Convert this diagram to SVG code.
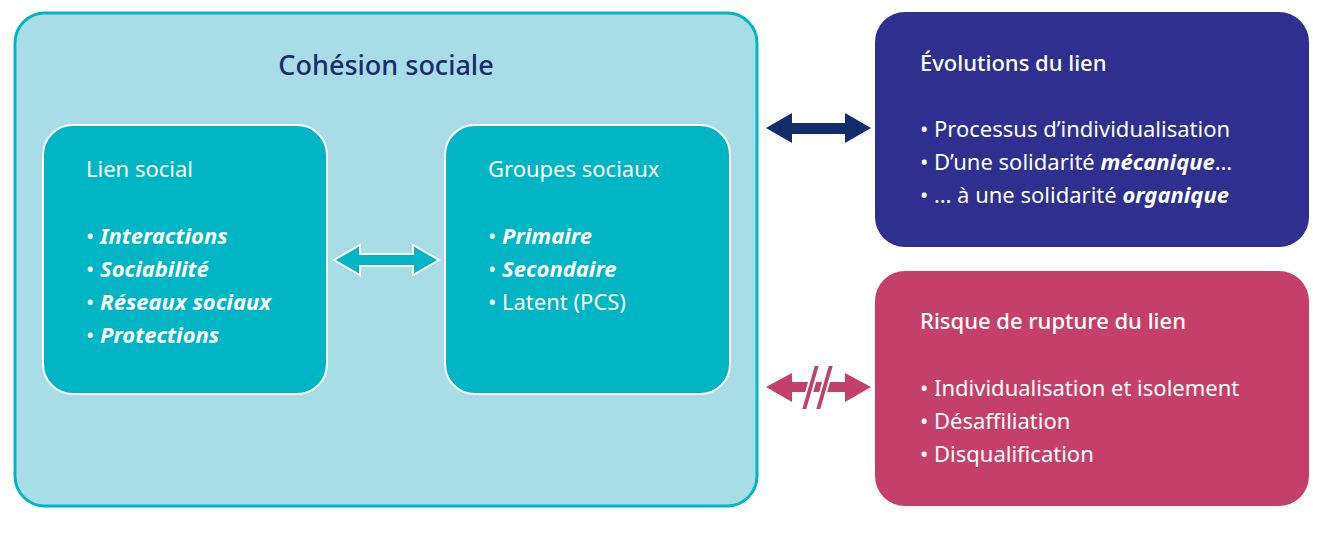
<svg xmlns="http://www.w3.org/2000/svg" width="1318" height="533" viewBox="0 0 1318 533">
<style>
text{font-family:"Noto Sans","Open Sans",sans-serif;font-size:22px;fill:#fff}
.t{font-size:22px}
.b{font-weight:bold;font-style:italic}
</style>
<rect width="1318" height="533" fill="#fff"/>
<g id="cohesion">
<rect x="15" y="13" width="742" height="493" rx="30" fill="#A8DCE6" stroke="#00B5C4" stroke-width="3"/>
<text x="386" y="75" text-anchor="middle" style="font-size:27px;fill:#1B2A6B;font-weight:500">Cohésion sociale</text>
</g>
<g id="lien">
<rect x="43" y="125" width="284" height="269" rx="30" fill="#00B5C4" stroke="#fff" stroke-width="2"/>
<text x="86" y="177">Lien social</text>
<text x="86" y="244">• <tspan class="b">Interactions</tspan></text>
<text x="86" y="277">• <tspan class="b">Sociabilité</tspan></text>
<text x="86" y="310">• <tspan class="b">Réseaux sociaux</tspan></text>
<text x="86" y="343">• <tspan class="b">Protections</tspan></text>
</g>
<g id="groupes">
<rect x="445" y="125" width="285" height="269" rx="30" fill="#00B5C4" stroke="#fff" stroke-width="2"/>
<text x="488" y="177">Groupes sociaux</text>
<text x="488" y="244">• <tspan class="b">Primaire</tspan></text>
<text x="488" y="277">• <tspan class="b">Secondaire</tspan></text>
<text x="488" y="310">• Latent (PCS)</text>
</g>
<g id="evolutions">
<rect x="875" y="12" width="434" height="235" rx="30" fill="#2E2F8F"/>
<text x="920" y="71" style="font-weight:500">Évolutions du lien</text>
<text x="920" y="137">• Processus d’individualisation</text>
<text x="920" y="170">• D’une solidarité <tspan class="b">mécanique</tspan>…</text>
<text x="920" y="203">• … à une solidarité <tspan class="b">organique</tspan></text>
</g>
<g id="rupture">
<rect x="875" y="271" width="434" height="235" rx="30" fill="#C4406B"/>
<text x="920" y="329" style="font-weight:500">Risque de rupture du lien</text>
<text x="920" y="396">• Individualisation et isolement</text>
<text x="920" y="429">• Désaffiliation</text>
<text x="920" y="462">• Disqualification</text>
</g>
<g id="connectors">
<polygon points="334,260 360,245 360,254 413,254 413,245 439,260 413,275 413,266 360,266 360,275" fill="#00B5C4" stroke="#fff" stroke-width="2"/>
<polygon points="766,128 792,113 792,123 845,123 845,113 871,128 845,143 845,134 792,134 792,143" fill="#132D6B"/>
<polygon points="766,387 792,373 792,382 845,382 845,373 871,387 845,402 845,392 792,392 792,402" fill="#C4406B"/>
<polygon points="801,410 814,365 820,365 807,410" fill="#C4406B" stroke="#fff" stroke-width="2"/>
<polygon points="815,410 828,365 834,365 821,410" fill="#C4406B" stroke="#fff" stroke-width="2"/>
</g>
</svg>
